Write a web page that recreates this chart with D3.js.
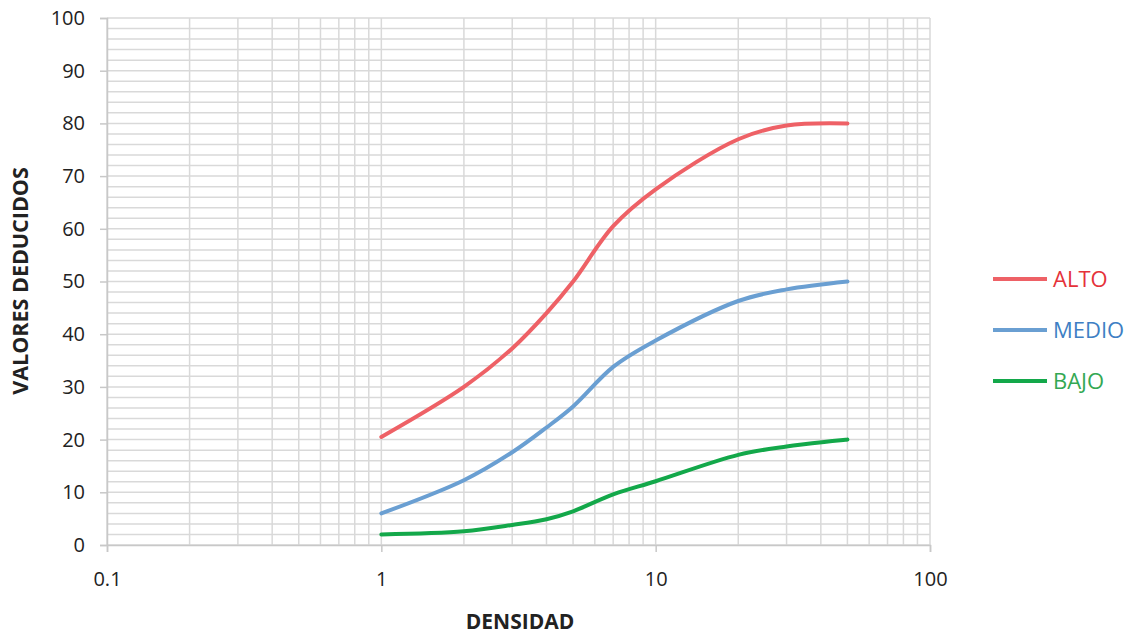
<!DOCTYPE html>
<html><head><meta charset="utf-8">
<script src="https://cdn.jsdelivr.net/npm/d3@7"></script>
<style>body{margin:0;background:#fff}svg{display:block}text{font-family:"Open Sans",sans-serif}</style>
</head><body><svg id="c" width="1135" height="637"></svg>
<script>
const densidad = [1, 2, 3, 4, 5, 7, 10, 20, 30, 50];
const alto  = [20.5, 30, 37.3, 44, 50, 60.5, 67.5, 77, 79.6, 80];
const medio = [6, 12.3, 17.6, 22.3, 26.3, 33.8, 38.8, 46.3, 48.5, 50];
const bajo  = [2, 2.6, 3.8, 4.9, 6.4, 9.6, 12.1, 17.1, 18.7, 20];
const seriesNames = ["ALTO", "MEDIO", "BAJO"];
const lineColors = ["#ee6166", "#6a9fd2", "#13a84a"];
const textColors = ["#e5323a", "#3e7fc4", "#33a853"];
const xTicks = [0.1, 1, 10, 100];
const yTicks = [0,10,20,30,40,50,60,70,80,90,100];

const svg = d3.select("#c");
const L = 107, R = 930, T = 18, B = 545;
const x = d3.scaleLog().domain([0.1, 100]).range([L, R]);
const y = d3.scaleLinear().domain([0, 100]).range([B, T]);
const grid = "#d9d9d9";

const vMinor = [];
for (let d = 0.1; d < 100; d *= 10) for (let k = 1; k <= 9; k++) vMinor.push(+(d*k).toPrecision(3));
vMinor.push(100);
svg.append("g").selectAll("line").data(vMinor).join("line")
  .attr("x1", d => x(d)).attr("x2", d => x(d)).attr("y1", T).attr("y2", B)
  .attr("stroke", grid).attr("stroke-width", 1.5);
svg.append("g").selectAll("line").data(d3.range(0, 101, 2)).join("line")
  .attr("x1", L).attr("x2", R).attr("y1", d => y(d)).attr("y2", d => y(d))
  .attr("stroke", grid).attr("stroke-width", 1.5);

const xa = svg.append("g").attr("transform", `translate(0,${B})`)
  .call(d3.axisBottom(x).tickValues(xTicks).tickFormat(d => String(d)).tickSize(7).tickPadding(20));
const ya = svg.append("g").attr("transform", `translate(${L},0)`)
  .call(d3.axisLeft(y).tickValues(yTicks).tickSize(7).tickPadding(15));
[xa, ya].forEach(a => {
  a.selectAll("path,line").attr("stroke", "#c8c8c8").attr("stroke-width", 1.5);
  a.selectAll("text").attr("font-size", 20).attr("fill", "#222");
});

const line = d3.line().curve(d3.curveCatmullRom.alpha(0.5)).x(d => x(d[0])).y(d => y(d[1]));
[alto, medio, bajo].forEach((vals, i) => {
  svg.append("path").datum(densidad.map((d, j) => [d, vals[j]]))
    .attr("d", line).attr("fill", "none").attr("stroke", lineColors[i])
    .attr("stroke-width", 4).attr("stroke-linecap", "round");
});

seriesNames.forEach((n, i) => {
  const ly = 279 + i * 51;
  svg.append("line").attr("x1", 993).attr("x2", 1047).attr("y1", ly).attr("y2", ly)
    .attr("stroke", lineColors[i]).attr("stroke-width", 4);
  svg.append("text").attr("x", 1053).attr("y", ly + 8).attr("font-size", 22)
    .attr("fill", textColors[i]).text(n);
});

svg.append("text").attr("transform", "translate(28,281) rotate(-90)").attr("text-anchor", "middle")
  .attr("font-size", 21.5).attr("font-weight", "bold").attr("fill", "#222").text("VALORES DEDUCIDOS");
svg.append("text").attr("x", 520).attr("y", 629).attr("text-anchor", "middle")
  .attr("font-size", 21).attr("font-weight", "bold").attr("fill", "#222").text("DENSIDAD");
</script></body></html>
